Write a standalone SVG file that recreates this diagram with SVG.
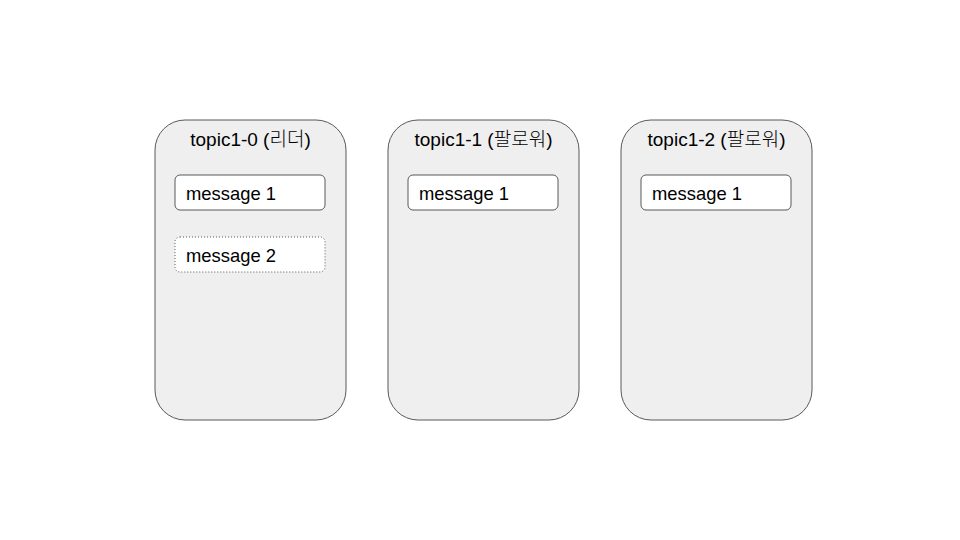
<svg xmlns="http://www.w3.org/2000/svg" width="960" height="540" viewBox="0 0 960 540">
<style>
.part{fill:#efefef;stroke:#595959;stroke-width:1}
.msg{fill:#ffffff;stroke:#595959;stroke-width:1}
.dot{stroke-dasharray:1 2}
.title{font-family:"Liberation Sans","Noto Sans CJK KR",sans-serif;font-size:19px;fill:#000;text-anchor:middle}
.ko{font-weight:300}
.mt{font-family:"Liberation Sans",sans-serif;font-size:18.4px;fill:#000}
</style>
<rect width="960" height="540" fill="#ffffff"/>
<g id="topic1-0">
<rect class="part" x="155" y="120" width="191" height="300" rx="30" ry="30"/>
<text class="title" x="250.5" y="146">topic1-0 (<tspan class="ko">리더</tspan>)</text>
<g id="t0-msg1"><rect class="msg" x="175" y="175" width="150" height="35" rx="5"/><text class="mt" x="186" y="199.5">message 1</text></g>
<g id="t0-msg2"><rect class="msg dot" x="175" y="237" width="150" height="35" rx="5"/><text class="mt" x="186" y="261.5">message 2</text></g>
</g>
<g id="topic1-1">
<rect class="part" x="388" y="120" width="191" height="300" rx="30" ry="30"/>
<text class="title" x="483.5" y="146">topic1-1 (<tspan class="ko">팔로워</tspan>)</text>
<g id="t1-msg1"><rect class="msg" x="408" y="175" width="150" height="35" rx="5"/><text class="mt" x="419" y="199.5">message 1</text></g>
</g>
<g id="topic1-2">
<rect class="part" x="621" y="120" width="191" height="300" rx="30" ry="30"/>
<text class="title" x="716.5" y="146">topic1-2 (<tspan class="ko">팔로워</tspan>)</text>
<g id="t2-msg1"><rect class="msg" x="641" y="175" width="150" height="35" rx="5"/><text class="mt" x="652" y="199.5">message 1</text></g>
</g>
<g id="connectors"></g>
</svg>
